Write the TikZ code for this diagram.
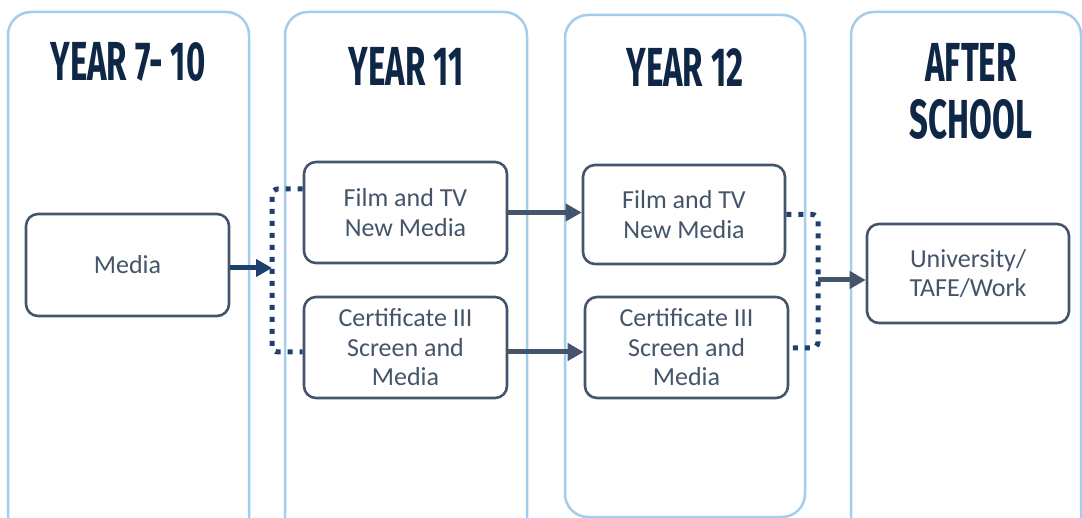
\documentclass[tikz,border=0pt]{standalone}
\usepackage{fontspec}
\setmainfont{Carlito}
\newfontfamily\headfont[FakeStretch=0.6]{Fira Sans}
\usetikzlibrary{arrows.meta}
\definecolor{colline}{HTML}{A3CDEB}
\definecolor{headcol}{HTML}{0E2747}
\definecolor{boxcol}{HTML}{44546A}
\definecolor{navy}{HTML}{1F3F6E}
\begin{document}
\begin{tikzpicture}[x=1pt,y=-1pt,
  column/.style={draw=colline,line width=2.5pt,rounded corners=23pt},
  heading/.style={text=headcol,font=\headfont\bfseries\fontsize{55}{58}\selectfont,align=center,inner sep=0pt},
  stage/.style={draw=boxcol,line width=2.6pt,rounded corners=12pt,text=boxcol,
    font=\fontsize{26}{29.5}\selectfont,align=center,inner sep=0pt},
  link/.style={draw=boxcol,line width=5pt,-{Triangle[length=16pt,width=17pt]}},
  navylink/.style={draw=navy,line width=5pt,-{Triangle[length=16pt,width=17pt]}},
  bracket/.style={draw=navy,line width=5pt,dash pattern=on 5pt off 7pt,rounded corners=6pt}
]
\useasboundingbox (0,0) rectangle (1082,518);
\begin{scope}
\clip (0,0) rectangle (1082,518);
\draw[column] (8,12) rectangle (249,545);
\draw[column] (285,12) rectangle (527,545);
\draw[column] (565,15) rectangle (805,517);
\draw[column] (851,12) rectangle (1081,545);
\end{scope}
% headings
\node[heading] (h1) at (128,62) {YEAR 7- 10};
\node[heading] (h2) at (406,66) {YEAR 11};
\node[heading] (h3) at (685,67) {YEAR 12};
\node[heading] (h4) at (971,91) {AFTER\\[-1pt]SCHOOL};
% boxes
\node[stage,minimum width=203pt,minimum height=102pt] (media) at (127.5,265) {Media};
\node[stage,minimum width=203pt,minimum height=101pt] (f11) at (405.5,212.5) {Film and TV\\New Media};
\node[stage,minimum width=203pt,minimum height=101pt] (c11) at (405.5,347.5) {Certificate III\\Screen and\\Media};
\node[stage,minimum width=202pt,minimum height=99pt] (f12) at (684,214.5) {Film and TV\\New Media};
\node[stage,minimum width=203pt,minimum height=101pt] (c12) at (686.5,347.5) {Certificate III\\Screen and\\Media};
\node[stage,minimum width=202pt,minimum height=99pt] (uni) at (968,273.5) {University/\\TAFE/Work};
% left bracket
\coordinate (lb) at (272,268);
\draw[bracket] ([yshift=23.5pt]f11.west) -| (lb) |- ([yshift=-4.5pt]c11.west);
\draw[navylink] (media.east |- lb) -- (lb);
% straight arrows
\draw[link] (f11.east) -- (f11.east -| f12.west);
\draw[link] (c11.east |- 0,352) -- (c12.west |- 0,352);
% right bracket
\coordinate (rb) at (818,280);
\draw[bracket] (f12.east) -| (rb) |- ([yshift=-0.5pt]c12.east);
\draw[link] (rb) -- (uni.west |- rb);
\end{tikzpicture}
\end{document}
